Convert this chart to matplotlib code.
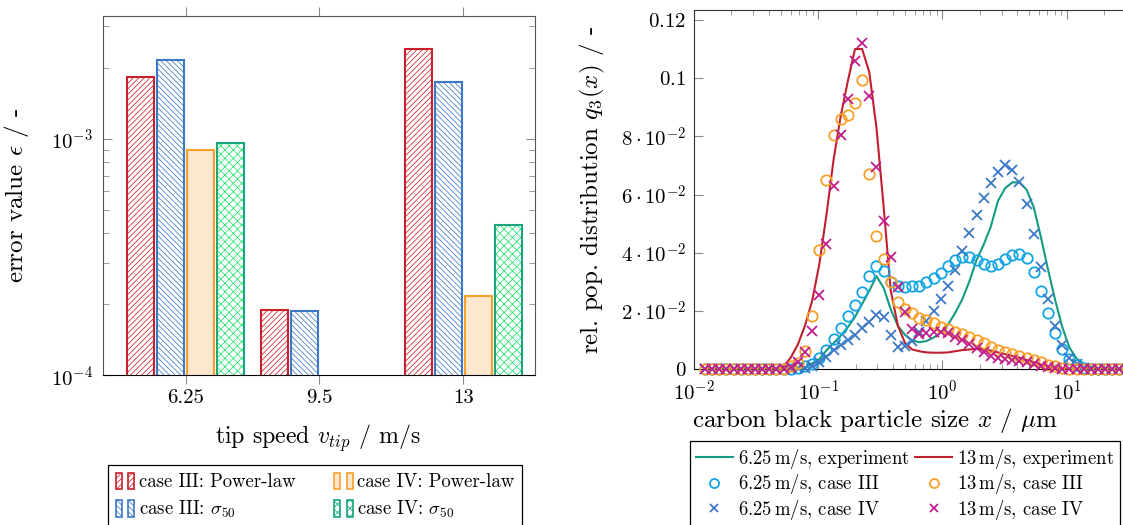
import numpy as np
import matplotlib
matplotlib.use("Agg")
import matplotlib.pyplot as plt
from matplotlib.patches import Patch
from matplotlib.lines import Line2D
from matplotlib.legend_handler import HandlerTuple
from matplotlib.ticker import LogLocator, NullFormatter, FixedLocator

plt.rcParams['font.family'] = 'serif'
plt.rcParams['font.serif'] = ['cmr10']
plt.rcParams['mathtext.fontset'] = 'cm'
plt.rcParams['axes.formatter.use_mathtext'] = True
plt.rcParams['font.size'] = 15
plt.rcParams['hatch.linewidth'] = 0.55

# ---------------- left chart data ----------------
tip_speeds = [6.25, 9.5, 13]
tip_labels = ["6.25", "9.5", "13"]
err_III_power = [1.83e-3, 1.89e-4, 2.41e-3]
err_III_sigma = [2.15e-3, 1.87e-4, 1.74e-3]
err_IV_power = [0.895e-3, np.nan, 2.16e-4]
err_IV_sigma = [0.959e-3, np.nan, 4.33e-4]
bar_labels = ["case III: Power-law", r"case III: $\sigma_{50}$",
              "case IV: Power-law", r"case IV: $\sigma_{50}$"]

# ---------------- right chart data ----------------
size_x = [0.01225, 0.01398, 0.01596, 0.01822, 0.02080, 0.02375, 0.02712, 0.03096,
          0.03535, 0.04036, 0.04607, 0.05260, 0.06006, 0.06856, 0.07828, 0.08937,
          0.1020, 0.1165, 0.1330, 0.1518, 0.1733, 0.1979, 0.2259, 0.2579,
          0.2945, 0.3362, 0.3838, 0.4382, 0.5003, 0.5712, 0.6521, 0.7445,
          0.8500, 0.9704, 1.108, 1.265, 1.444, 1.649, 1.882, 2.149,
          2.453, 2.801, 3.198, 3.651, 4.168, 4.759, 5.433, 6.203,
          7.082, 8.085, 9.230, 10.54, 12.03, 13.74, 15.68, 17.90,
          20.44, 23.34, 26.64, 30.42, 34.73]

exp_625 = [0, 0, 0, 0, 0, 0, 0, 0, 0, 0, 0, 0, 0, 0,
           0.0005, 0.002, 0.0035, 0.0065, 0.009, 0.0115, 0.0145, 0.018, 0.0225, 0.027,
           0.032, 0.028, 0.0206, 0.0149, 0.0118, 0.0099, 0.0093, 0.0097, 0.0109, 0.0126,
           0.0153, 0.0193, 0.024, 0.0302, 0.0375, 0.0428, 0.049, 0.0578, 0.0622, 0.0642,
           0.0642, 0.0617, 0.0557, 0.0455, 0.0343, 0.0238, 0.0145, 0.0075, 0.0037, 0.0019,
           0.0008, 0.0002, 0, 0, 0, 0, 0]

exp_13 = [0, 0, 0, 0, 0, 0, 0, 0, 0, 0,
          0.0002, 0.001, 0.004, 0.0085, 0.015, 0.0235, 0.036, 0.053, 0.072, 0.087,
          0.099, 0.110, 0.110, 0.102, 0.083, 0.056, 0.027, 0.015, 0.009, 0.0068,
          0.0062, 0.0058, 0.0057, 0.0057, 0.0058, 0.0062, 0.0066, 0.0068, 0.0070, 0.0068,
          0.0064, 0.0058, 0.0052, 0.0046, 0.0040, 0.0032, 0.0024, 0.0016, 0.0009, 0.0004,
          0.0001, 0, 0, 0, 0, 0, 0, 0, 0, 0, 0]

caseIII_625 = [0, 0, 0, 0, 0, 0, 0, 0, 0, 0, 0, 0, 0,
               0.0005, 0.001, 0.0018, 0.004, 0.0066, 0.0105, 0.0143, 0.0182, 0.022, 0.0265,
               0.032, 0.0356, 0.0337, 0.0301, 0.0287, 0.0284, 0.0286, 0.0287, 0.0299, 0.0313,
               0.0332, 0.0356, 0.0374, 0.0387, 0.0387, 0.0375, 0.0361, 0.0356, 0.0361, 0.0378,
               0.0393, 0.0396, 0.0381, 0.0335, 0.027, 0.0194, 0.0126, 0.0071, 0.0036, 0.0015,
               0.0005, 0, 0, 0, 0, 0, 0, 0]

caseIV_625 = [0, 0, 0, 0, 0, 0, 0, 0, 0, 0, 0, 0, 0,
              0.0003, 0.0005, 0.001, 0.0026, 0.0043, 0.0066, 0.0083, 0.0101, 0.0118, 0.0141,
              0.0164, 0.0188, 0.0178, 0.0119, 0.0077, 0.0080, 0.0097, 0.0128, 0.0167, 0.0201,
              0.024, 0.0287, 0.0341, 0.0405, 0.0467, 0.053, 0.0587, 0.0641, 0.0679, 0.0700,
              0.0686, 0.0644, 0.0567, 0.0465, 0.0353, 0.024, 0.0147, 0.0082, 0.0038, 0.0018,
              0.0005, 0, 0, 0, 0, 0, 0, 0]

caseIII_13 = [0, 0, 0, 0, 0, 0, 0, 0, 0, 0, 0, 0,
              0.001, 0.002, 0.0064, 0.0182, 0.0409, 0.065, 0.0805, 0.0859, 0.0874, 0.0914,
              0.0993, 0.0671, 0.0458, 0.0379, 0.0300, 0.0231, 0.0207, 0.0192, 0.0177, 0.0169,
              0.0158, 0.0146, 0.0137, 0.0129, 0.0121, 0.0112, 0.0101, 0.0089, 0.0078, 0.0066,
              0.0058, 0.0052, 0.0046, 0.0038, 0.0032, 0.0024, 0.0015, 0.0010, 0.0005,
              0, 0, 0, 0, 0, 0, 0, 0, 0, 0]

caseIV_13 = [0, 0, 0, 0, 0, 0, 0, 0, 0, 0, 0, 0,
             0.0008, 0.0025, 0.0060, 0.0132, 0.0255, 0.043, 0.0631, 0.0803, 0.0927, 0.106,
             0.1122, 0.0937, 0.0694, 0.0510, 0.0385, 0.0282, 0.0198, 0.0140, 0.0120, 0.0124,
             0.0127, 0.0129, 0.0124, 0.0112, 0.0101, 0.0087, 0.0072, 0.0060, 0.0045, 0.0038,
             0.0036, 0.0032, 0.0030, 0.0025, 0.0018, 0.0013, 0.0007, 0.0003,
             0, 0, 0, 0, 0, 0, 0, 0, 0, 0, 0]

q3_ticks = [0, 0.02, 0.04, 0.06, 0.08, 0.1, 0.12]
q3_ticklabels = ["$0$", r"$2\cdot10^{-2}$", r"$4\cdot10^{-2}$", r"$6\cdot10^{-2}$",
                 r"$8\cdot10^{-2}$", "$0.1$", "$0.12$"]
size_ticks = [0.01, 0.1, 1, 10]
line_labels = [r"6.25$\,$m/s, experiment", r"6.25$\,$m/s, case III", r"6.25$\,$m/s, case IV",
               r"13$\,$m/s, experiment", r"13$\,$m/s, case III", r"13$\,$m/s, case IV"]

# colours
RED = "#c9202c"
BLUE = "#3b78c6"
ORANGE = "#f8a027"
ORANGE_FILL = "#fde8cf"
TEAL = "#17a67e"
GREEN_HATCH = "#22e070"
SKY = "#12a4e4"
MAGENTA = "#c01e8c"
TEAL_LINE = "#139c82"
RED_LINE = "#c0202e"
GRAY = "#8a8a8a"

TICK_FS = 15
LEG_FS = 13.5

W, H = 1123, 525
fig = plt.figure(figsize=(W / 100, H / 100), dpi=100)

def fr(x0, y0, x1, y1):
    return [x0 / W, 1 - y1 / H, (x1 - x0) / W, (y1 - y0) / H]

# ================= left axes =================
axL = fig.add_axes(fr(102.7, 15.7, 535.3, 375.3))
axL.set_yscale("log")
xs = np.array(tip_speeds)
offs = [-1.095, -0.365, 0.365, 1.095]
bw = 0.65
axL.bar(xs + offs[0], err_III_power, bw, facecolor="white", edgecolor=RED, hatch="//////", linewidth=1.5)
axL.bar(xs + offs[1], err_III_sigma, bw, facecolor="white", edgecolor=BLUE, hatch="\\\\\\\\\\\\", linewidth=1.5)
axL.bar(xs + offs[2], err_IV_power, bw, facecolor=ORANGE_FILL, edgecolor=ORANGE, linewidth=1.5)
axL.bar(xs + offs[3], err_IV_sigma, bw, facecolor="white", edgecolor=GREEN_HATCH, hatch="xxxx", linewidth=0)
axL.bar(xs + offs[3], err_IV_sigma, bw, fill=False, edgecolor=TEAL, linewidth=1.5)
axL.set_xlim(4.23, 14.75)
axL.set_ylim(1e-4, 3.32e-3)
axL.set_xticks(tip_speeds)
axL.set_xticklabels(tip_labels)
axL.tick_params(axis="x", which="both", direction="out", length=6.5, color=GRAY, top=True, bottom=True,
                pad=3.5, labelsize=TICK_FS)
axL.tick_params(axis="y", which="major", direction="in", length=6.5, color=GRAY, left=True, right=True,
                labelsize=TICK_FS, pad=7)
axL.tick_params(axis="y", which="minor", direction="in", length=4, color=GRAY, left=True, right=True)
for s in ["top", "right", "left"]:
    axL.spines[s].set_color("#555555")
axL.spines["bottom"].set_color("black")
axL.set_xlabel(r"tip speed $v_{tip}$ / m/s", fontsize=17.2)
axL.set_ylabel(r"error value $\epsilon$ / -", fontsize=18)
axL.xaxis.set_label_coords(0.498, -0.132)
axL.yaxis.set_label_coords(-0.166, 0.5)

def pair(**kw):
    return (Patch(**kw), Patch(**kw))

h1 = pair(facecolor="white", edgecolor=RED, hatch="//////", lw=1.2)
h2 = pair(facecolor="white", edgecolor=BLUE, hatch="\\\\\\\\\\\\", lw=1.2)
h3 = pair(facecolor=ORANGE_FILL, edgecolor=ORANGE, lw=1.2)
h4 = pair(facecolor="white", edgecolor=TEAL, hatch="xxxx", lw=1.2)
legL = fig.legend([h1, h2, h3, h4], bar_labels, loc="upper left",
                  bbox_to_anchor=(108 / W, 1 - 465 / H), ncol=2, frameon=True,
                  fancybox=False, edgecolor="black", framealpha=1,
                  handler_map={tuple: HandlerTuple(ndivide=None, pad=0.35)},
                  handlelength=1.0, handleheight=0.96, handletextpad=0.25,
                  labelspacing=0.42, columnspacing=2.05, borderpad=0.4,
                  borderaxespad=0, fontsize=LEG_FS)
legL.get_frame().set_linewidth(0.9)

# ================= right axes =================
axR = fig.add_axes(fr(694, 10, 694 + 4 * 124.2, 369.3))
axR.set_xscale("log")
axR.plot(size_x, exp_625, color=TEAL_LINE, lw=1.5, zorder=2)
axR.plot(size_x, exp_13, color=RED_LINE, lw=1.5, zorder=2)
axR.plot(size_x, caseIII_625, ls="none", marker="o", ms=7.5, mfc="none", mec=SKY, mew=1.3, zorder=3, clip_on=False)
axR.plot(size_x, caseIV_625, ls="none", marker="x", ms=7, mec=BLUE, mew=1.3, zorder=3, clip_on=False)
axR.plot(size_x, caseIII_13, ls="none", marker="o", ms=7.5, mfc="none", mec=ORANGE, mew=1.3, zorder=3, clip_on=False)
axR.plot(size_x, caseIV_13, ls="none", marker="x", ms=7, mec=MAGENTA, mew=1.3, zorder=3, clip_on=False)
axR.set_xlim(0.01, 100)
axR.set_ylim(0, 0.1234)
axR.yaxis.set_major_locator(FixedLocator(q3_ticks))
axR.set_yticklabels(q3_ticklabels)
axR.xaxis.set_major_locator(FixedLocator(size_ticks))
axR.xaxis.set_minor_locator(LogLocator(base=10, subs=np.arange(2, 10), numticks=20))
axR.xaxis.set_minor_formatter(NullFormatter())
axR.tick_params(axis="both", which="major", direction="in", length=6.5, color=GRAY, top=True, right=False,
                labelsize=TICK_FS)
axR.tick_params(axis="x", which="minor", direction="in", length=3.5, color=GRAY, top=True)
axR.tick_params(axis="x", pad=7.5)
axR.tick_params(axis="y", pad=5.5)
axR.spines["right"].set_visible(False)
for s in ["top", "left"]:
    axR.spines[s].set_color("#333333")
axR.spines["bottom"].set_color("black")
axR.set_xlabel(r"carbon black particle size $x$ / $\mu$m", fontsize=18)
axR.set_ylabel(r"rel. pop. distribution $q_3(x)$ / -", fontsize=18)
axR.xaxis.set_label_coords(0.364, -0.102)
axR.yaxis.set_label_coords(-0.175, 0.5)

handles = [Line2D([], [], color=TEAL_LINE, lw=1.5),
           Line2D([], [], ls="none", marker="o", ms=6.5, mfc="none", mec=SKY, mew=1.3),
           Line2D([], [], ls="none", marker="x", ms=6, mec=BLUE, mew=1.3),
           Line2D([], [], color=RED_LINE, lw=1.5),
           Line2D([], [], ls="none", marker="o", ms=6.5, mfc="none", mec=ORANGE, mew=1.3),
           Line2D([], [], ls="none", marker="x", ms=6, mec=MAGENTA, mew=1.3)]
legR = fig.legend(handles, line_labels, loc="upper left",
                  bbox_to_anchor=(690 / W, 1 - 441 / H), ncol=2, frameon=True,
                  fancybox=False, edgecolor="black", framealpha=1,
                  handlelength=1.97, handletextpad=0.27, labelspacing=0.08,
                  columnspacing=0.32, borderpad=0.3, borderaxespad=0, fontsize=LEG_FS)
legR.get_frame().set_linewidth(0.9)

fig.savefig("out.png", dpi=100)
